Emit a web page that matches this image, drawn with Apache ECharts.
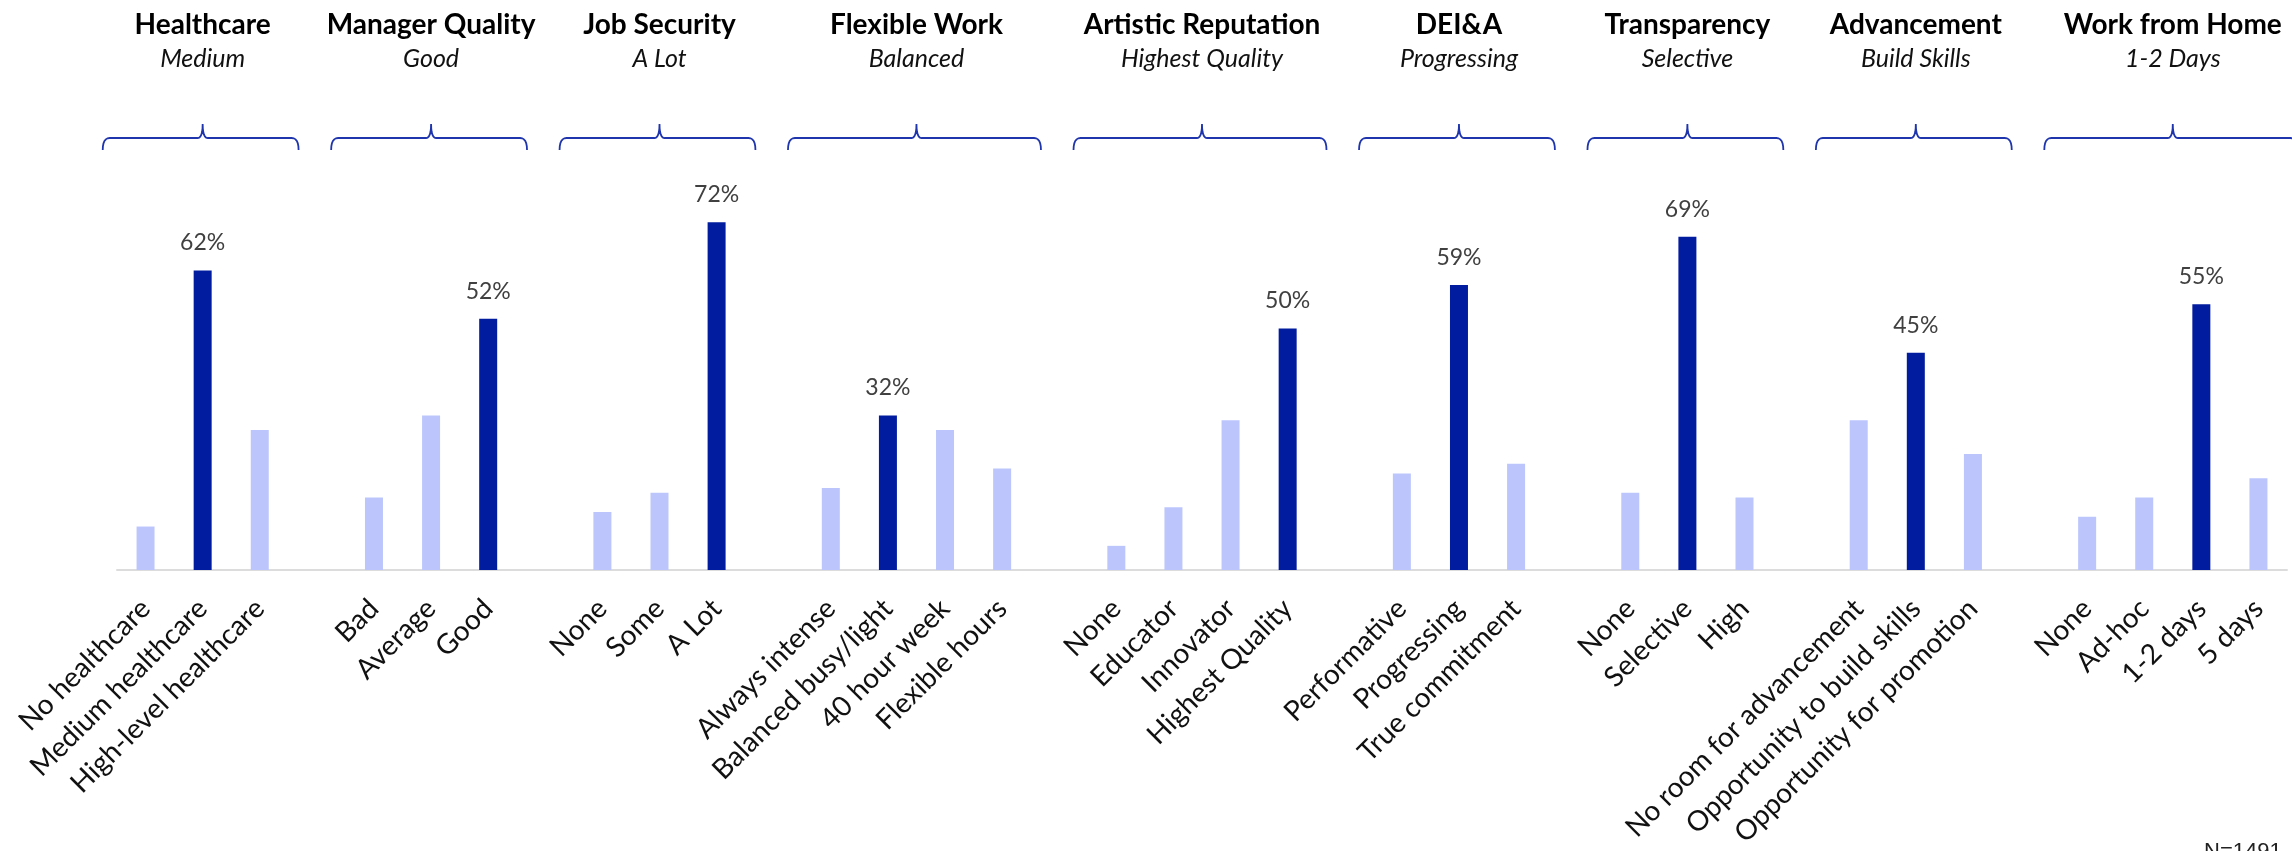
<!DOCTYPE html>
<html>
<head>
<meta charset="utf-8">
<script src="https://cdn.jsdelivr.net/npm/echarts@6/dist/echarts.min.js"></script>
<style>
  html, body { margin: 0; padding: 0; background: #ffffff; }
  #chart { width: 2292px; height: 851px; }
</style>
</head>
<body>
<div id="chart"></div>
<script>
// Survey dimensions, the preferred answer for each, and the answer options
const groupTitles = ['Healthcare', 'Manager Quality', 'Job Security', 'Flexible Work',
  'Artistic Reputation', 'DEI&A', 'Transparency', 'Advancement', 'Work from Home'];
const groupPicks = ['Medium', 'Good', 'A Lot', 'Balanced', 'Highest Quality',
  'Progressing', 'Selective', 'Build Skills', '1-2 Days'];

const optionLabels = [
  ['No healthcare', 'Medium healthcare', 'High-level healthcare'],
  ['Bad', 'Average', 'Good'],
  ['None', 'Some', 'A Lot'],
  ['Always intense', 'Balanced busy/light', '40 hour week', 'Flexible hours'],
  ['None', 'Educator', 'Innovator', 'Highest Quality'],
  ['Performative', 'Progressing', 'True commitment'],
  ['None', 'Selective', 'High'],
  ['No room for advancement', 'Opportunity to build skills', 'Opportunity for promotion'],
  ['None', 'Ad-hoc', '1-2 days', '5 days']
];

// Share of respondents (%) choosing each option
const optionShares = [
  [9, 62, 29],
  [15, 32, 52],
  [12, 16, 72],
  [17, 32, 29, 21],
  [5, 13, 31, 50],
  [20, 59, 22],
  [16, 69, 15],
  [31, 45, 24],
  [11, 15, 55, 19]
];

// Which option in each group is the headline pick
const pickedIndex = [1, 2, 2, 1, 3, 1, 1, 1, 2];

const sampleNote = 'N=1491';

const DARK = '#021c9f';
const LIGHT = '#bcc6fc';
const BRACE = '#1f35ad';
const FONT = 'Lato, "Noto Sans", sans-serif';

// Flatten groups into one category axis with a blank slot between groups
const categories = [];
const values = [];
const groupSpans = [];
optionLabels.forEach((labels, g) => {
  if (g > 0) { categories.push(''); values.push('-'); }
  const start = categories.length;
  labels.forEach((lab, i) => {
    const picked = i === pickedIndex[g];
    categories.push(lab);
    values.push({
      value: optionShares[g][i],
      itemStyle: { color: picked ? DARK : LIGHT },
      label: { show: picked }
    });
  });
  groupSpans.push([start, categories.length - 1]);
});

const chart = echarts.init(document.getElementById('chart'), null, { renderer: 'canvas' });

chart.setOption({
  animation: false,
  backgroundColor: '#ffffff',
  grid: { left: 117, right: 5, top: 87, bottom: 281, containLabel: false },
  xAxis: {
    type: 'category',
    data: categories,
    axisTick: { show: false },
    axisLine: { lineStyle: { color: '#dcdcdc', width: 2 } },
    axisLabel: {
      interval: 0,
      rotate: 45,
      margin: 34,
      fontSize: 28,
      color: '#111111',
      fontFamily: FONT
    }
  },
  yAxis: { type: 'value', min: 0, max: 100, show: false },
  series: [{
    type: 'bar',
    data: values,
    barWidth: 18,
    label: {
      show: false,
      position: 'top',
      distance: 16,
      formatter: '{c}%',
      fontSize: 23,
      color: '#404040',
      fontFamily: FONT
    }
  }]
});

// Sample a quadratic curve into points (excluding its start point)
function quad(p0, c, p1, n) {
  const pts = [];
  for (let k = 1; k <= n; k++) {
    const t = k / n, u = 1 - t;
    pts.push([
      u * u * p0[0] + 2 * u * t * c[0] + t * t * p1[0],
      u * u * p0[1] + 2 * u * t * c[1] + t * t * p1[1]
    ]);
  }
  return pts;
}

// Group headers and braces, positioned from the category axis
const px = idx => chart.convertToPixel({ gridIndex: 0 }, [idx, 0])[0];
const slot = px(1) - px(0);
const graphics = [];
groupSpans.forEach(([a, b], g) => {
  const left = px(a) - slot * 0.75;
  const right = px(b) + slot * 0.68;
  const mid = (px(a) + px(b)) / 2;
  const yLine = 138, yEnd = 150, yTip = 124, r = 7;
  let pts = [[left, yEnd]];
  pts = pts.concat(quad([left, yEnd], [left, yLine], [left + r, yLine], 6));
  pts.push([mid - 5, yLine]);
  pts = pts.concat(quad([mid - 5, yLine], [mid, yLine], [mid, yTip], 6));
  pts = pts.concat(quad([mid, yTip], [mid, yLine], [mid + 5, yLine], 6));
  pts.push([right - r, yLine]);
  pts = pts.concat(quad([right - r, yLine], [right, yLine], [right, yEnd], 6));
  graphics.push({
    type: 'polyline',
    shape: { points: pts },
    style: { stroke: BRACE, lineWidth: 1.8, fill: null }
  });
  graphics.push({
    type: 'text',
    x: mid, y: 25,
    style: {
      text: groupTitles[g],
      fontSize: 28, fontWeight: 'bold', fontFamily: FONT, fill: '#000000',
      align: 'center', verticalAlign: 'middle',
      textAlign: 'center', textVerticalAlign: 'middle'
    }
  });
  graphics.push({
    type: 'text',
    x: mid, y: 59,
    style: {
      text: groupPicks[g],
      fontSize: 25, fontStyle: 'italic', fontFamily: FONT, fill: '#111111',
      align: 'center', verticalAlign: 'middle',
      textAlign: 'center', textVerticalAlign: 'middle'
    }
  });
});
graphics.push({
  type: 'text',
  x: 2204, y: 841,
  style: {
    text: sampleNote,
    fontSize: 22, fontFamily: '"Liberation Sans", Arial, sans-serif', fill: '#222222',
    align: 'left', verticalAlign: 'top',
    textAlign: 'left', textVerticalAlign: 'top'
  }
});

chart.setOption({ graphic: graphics });
</script>
</body>
</html>
